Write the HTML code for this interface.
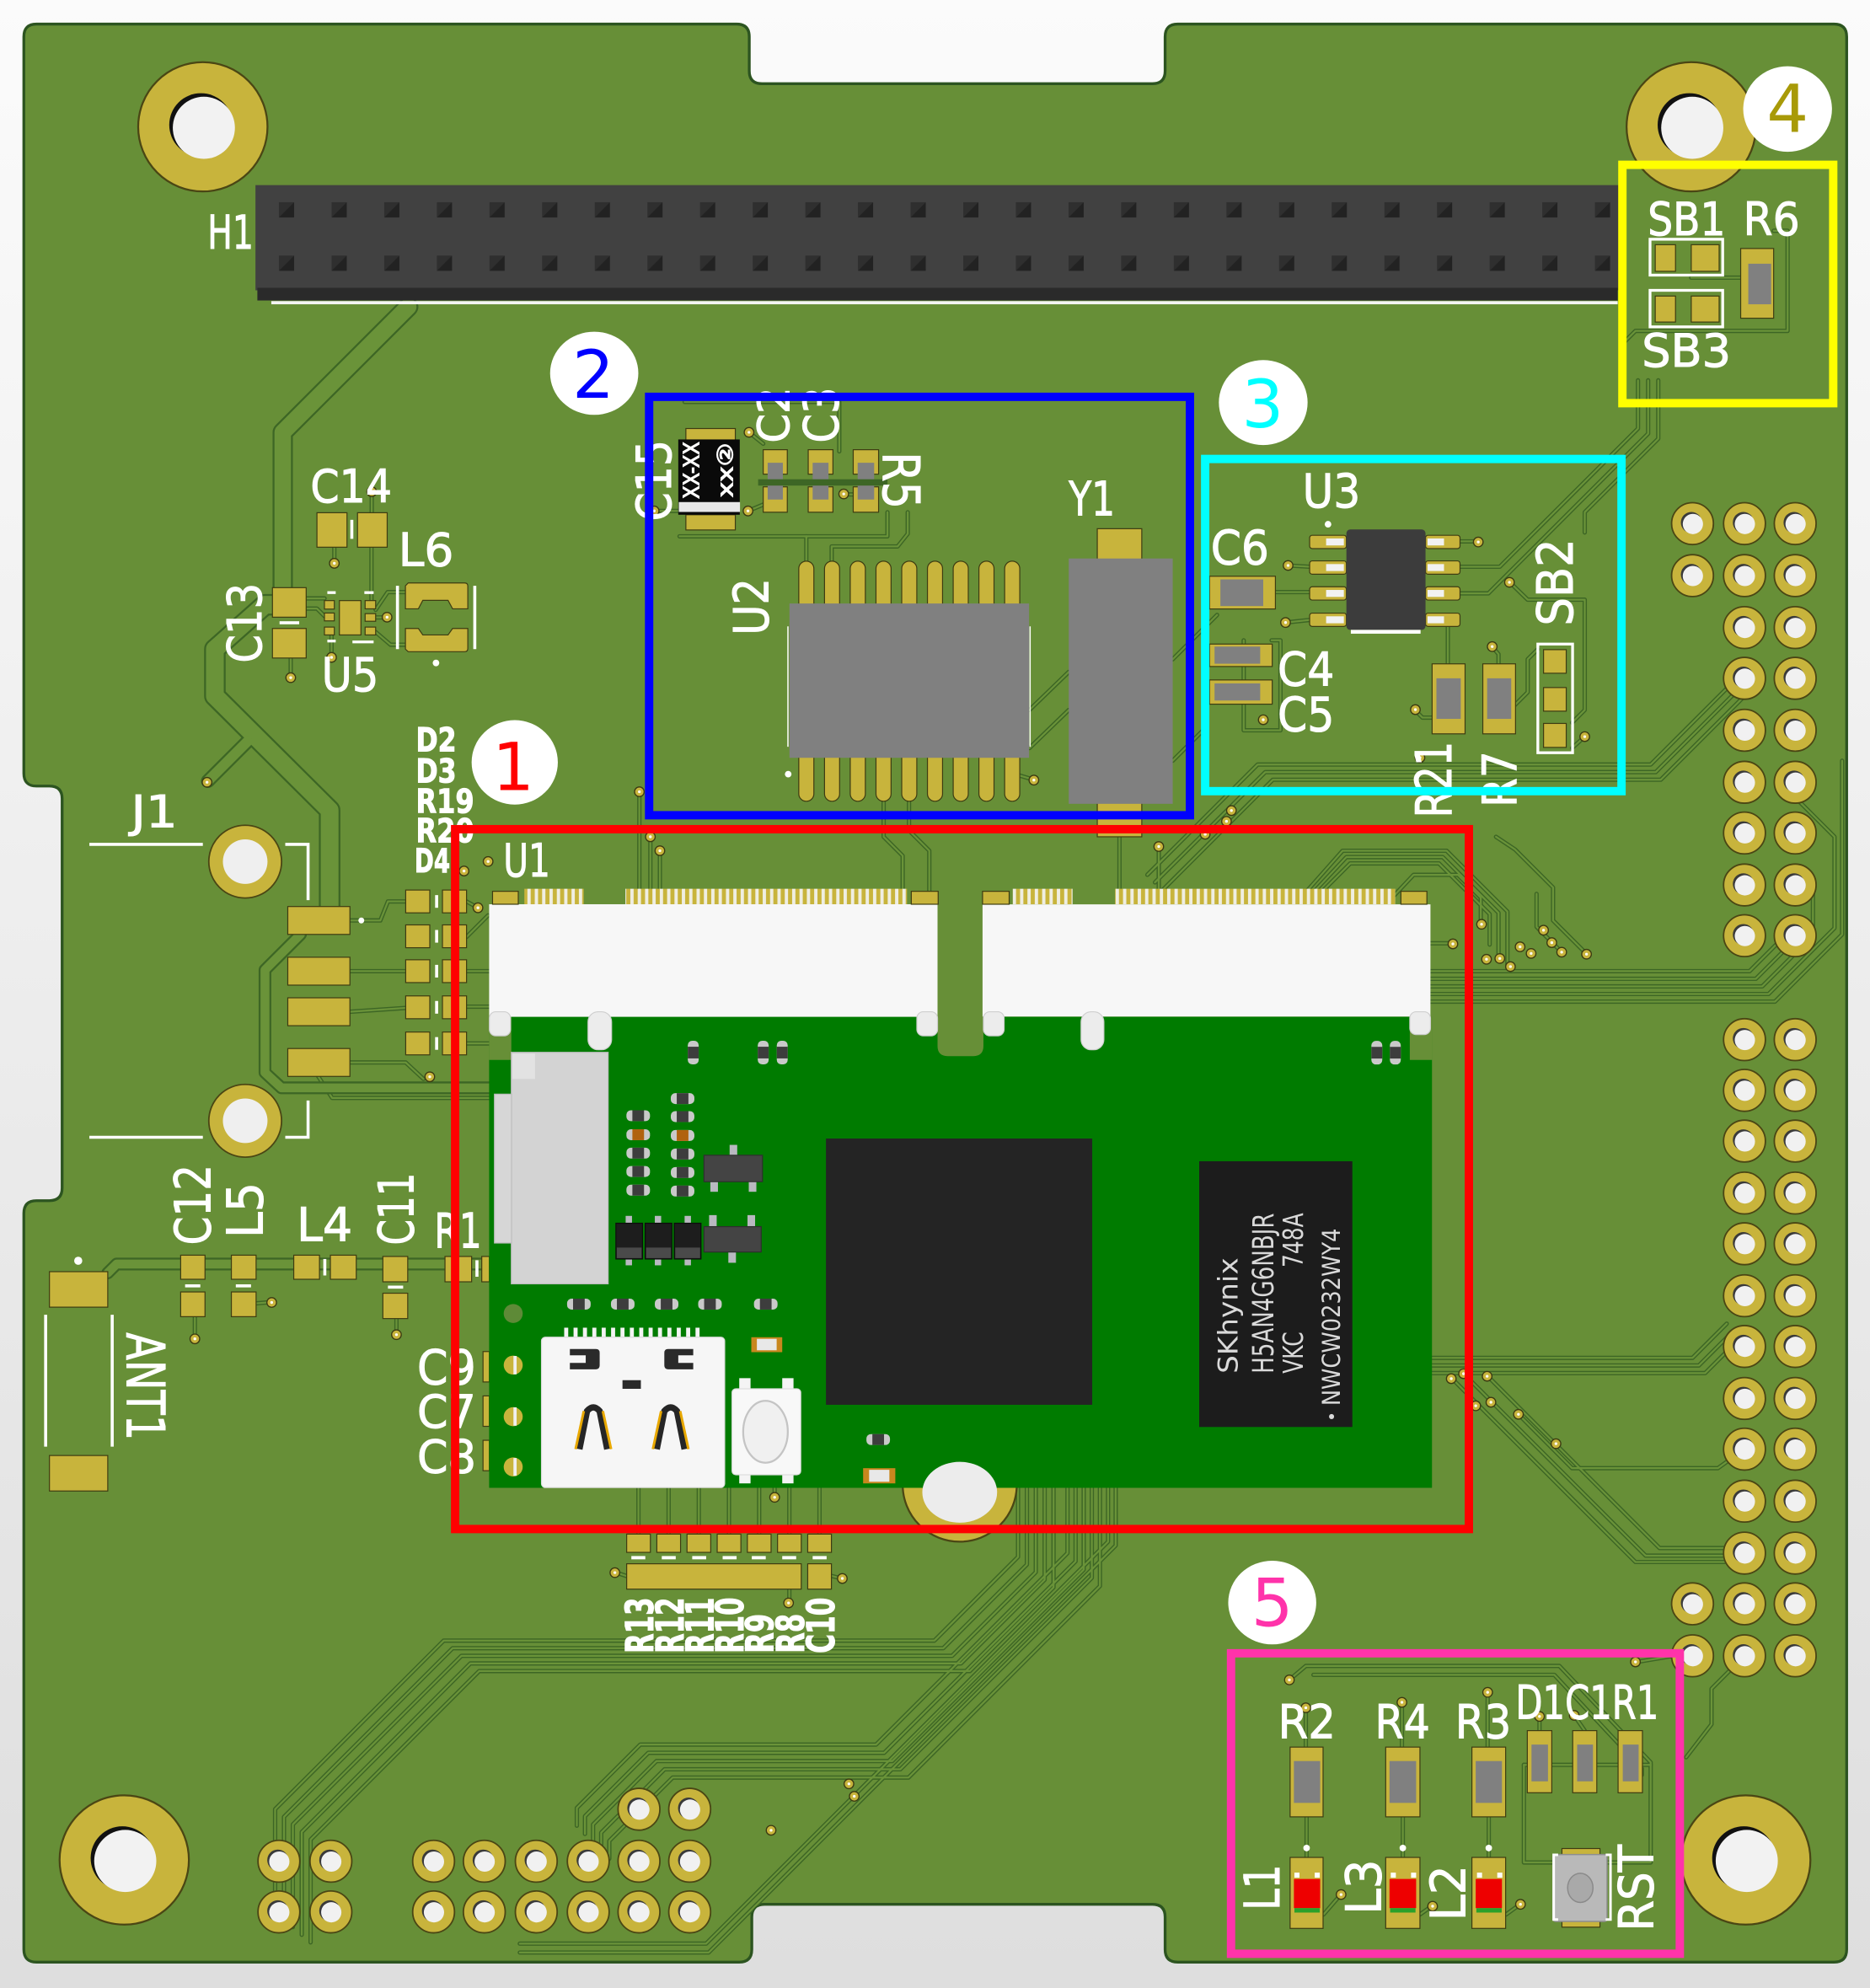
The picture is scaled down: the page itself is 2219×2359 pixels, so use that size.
<!DOCTYPE html>
<html><head><meta charset="utf-8"><style>
html,body{margin:0;padding:0;background:#eee;}
svg{display:block}
.s{fill:#fff;stroke:#fff;stroke-width:0.7;font-family:"DejaVu Sans","Liberation Sans","Noto Sans CJK JP",sans-serif;}
.b{font-weight:bold}
.g{fill:#c8b43c;stroke:#3e3c12;stroke-width:0.8}
.gy{fill:#808080}
.sk{stroke:#fff;fill:none}
</style></head><body>
<svg width="2219" height="2359" viewBox="0 0 1475 1568" preserveAspectRatio="none" xmlns="http://www.w3.org/2000/svg">
<defs>
<linearGradient id="bg" x1="0" y1="0" x2="0" y2="1"><stop offset="0" stop-color="#fbfbfb"/><stop offset="1" stop-color="#dedede"/></linearGradient>
<pattern id="pins" x="220" y="159.5" width="41.52" height="42.1" patternUnits="userSpaceOnUse"><rect width="12" height="12" fill="#222"/><path d="M0 0H12L0 12Z" fill="#2f2f2f"/></pattern>
<pattern id="comb" x="0" y="0" width="5.8" height="20" patternUnits="userSpaceOnUse"><rect width="5.8" height="20" fill="#efeee2"/><rect x="1" width="3.2" height="20" fill="#c8b43c"/></pattern>
<pattern id="wcomb" x="0" y="0" width="7.4" height="10" patternUnits="userSpaceOnUse"><rect x="1" width="3.2" height="10" fill="#f4f4f4"/></pattern>
<clipPath id="bc"><path d="M28.8,19 H581 Q591,19 591,29 V56 Q591,66 601,66 H909 Q919,66 919,56 V29 Q919,19 929,19 H1446.6 Q1456.6,19 1456.6,29 V1537.6 Q1456.6,1547.6 1446.6,1547.6 H929 Q919,1547.6 919,1537.6 V1512 Q919,1502 909,1502 H603 Q593,1502 593,1512 V1537.6 Q593,1547.6 583,1547.6 H28.8 Q18.8,1547.6 18.8,1537.6 V957 Q18.8,947 28.8,947 H39 Q49,947 49,937 V630 Q49,620 39,620 H28.8 Q18.8,620 18.8,610 V29 Q18.8,19 28.8,19 Z"/></clipPath>
<g id="hp"><circle r="16.5" fill="#c8b43c" stroke="#4a4614" stroke-width="1.2"/><circle cx="-0.9" cy="-0.9" r="8.3" fill="#3a3a3a"/><circle cx="0.3" cy="0.3" r="8" fill="#f1f1f1"/></g>
<g id="v"><circle r="3.8" fill="#c8b43c" stroke="#3b3a12" stroke-width="0.9"/><circle r="1.1" fill="#fff"/></g>
<g id="mh"><circle r="51" fill="#c8b43c" stroke="#4a4614" stroke-width="1.5"/><circle cx="-1.5" cy="-1.5" r="25" fill="#111"/><circle cx="0.8" cy="0.8" r="24.5" fill="#f2f2f2"/></g>
<g id="mr"><rect x="-9.3" y="-4.3" width="18.6" height="8.6" rx="3.5" fill="#c9c9c9"/><rect x="-4.6" y="-4.3" width="9.2" height="8.6" fill="#3d3d3d"/></g>
<g id="mrb"><rect x="-9.3" y="-4.3" width="18.6" height="8.6" rx="3.5" fill="#c9c9c9"/><rect x="-4.6" y="-4.3" width="9.2" height="8.6" fill="#b0620f"/></g>
<g id="bA"><path d="M803,1120 L803,1228 L737,1294 L350,1294 L217,1427 L217,1508"/></g>
<g id="bB"><path d="M842,1120 L842,1225 L691,1376 L505,1376 L455,1426 L455,1440"/></g>
<g id="T">
<use href="#bA"/><use href="#bA" transform="translate(7,6)"/><use href="#bA" transform="translate(14,12)"/><use href="#bA" transform="translate(21,18)"/><use href="#bA" transform="translate(28,24)"/>
<use href="#bB"/><use href="#bB" transform="translate(6.4,6.5)"/><use href="#bB" transform="translate(12.8,13)"/><use href="#bB" transform="translate(19.2,19.5)"/><use href="#bB" transform="translate(25.6,26)"/>
<path d="M874,1120 L874,1216 L557,1533 L410,1533"/>
<path d="M880,1120 L880,1219 L559,1540 L410,1540"/>
<path d="M276,726 L300,726 L306,711 L320,711"/>
<path d="M276,766 L320,766"/>
<path d="M276,798 L320,795"/>
<path d="M276,838 L320,838 L334,851"/>
<path d="M368,711 L377,716"/>
<path d="M368,739 L385,722"/>
<path d="M368,766 L387,766"/>
<path d="M368,794 L387,794"/>
<path d="M368,823 L387,823"/>
<path d="M251,849 L262,866 L387,866"/>
<path d="M153.7,1056 L153.7,1038"/>
<path d="M202,1028 L214,1027"/>
<path d="M312.7,1052.7 L312.7,1040"/>
<path d="M263.7,444 L263.7,431"/>
<path d="M293.2,388 L293.2,404"/>
<path d="M293,431 L293,476"/>
<path d="M241.5,472 L256,472"/>
<path d="M241.5,480 L250,480 L256,486"/>
<path d="M296.3,481 L305.8,467 L319.8,467"/>
<path d="M296.3,487 L305.3,487"/>
<path d="M296.3,498.5 L308,508.5 L319.8,508.5"/>
<path d="M229.3,534.5 L229.3,519"/>
<path d="M261.5,518.5 L261.5,501"/>
<path d="M540,317 L662,317 L662,356"/>
<path d="M536,423 L700,423 L700,404"/>
<path d="M636,423 L636,443"/>
<path d="M656,443 L656,431 L708,431 L716,421 L716,404"/>
<path d="M590.8,341 L602,350"/>
<path d="M665.5,390 L673,390"/>
<path d="M590,403 L602,398"/>
<path d="M516,403 L535,403"/>
<path d="M798.4,610 L815.5,615"/>
<path d="M504.3,625 L504.3,703"/>
<path d="M513,660 L513,703"/>
<path d="M520.5,671 L520.5,703"/>
<path d="M697,632 L697,660 L712,675 L712,703"/>
<path d="M717,632 L717,655 L733,671 L733,703"/>
<path d="M883,660 L883,703"/>
<path d="M914,668 L914,703"/>
<path d="M812,560 L843,530"/>
<path d="M812,590 L843,560"/>
<path d="M925,600 L950,575"/>
<path d="M925,520 L960,485"/>
<path d="M1006,467 L1033,467"/>
<path d="M1016,446 L1033,447"/>
<path d="M1014,491 L1033,489"/>
<path d="M1152,427 L1166,427"/>
<path d="M1138,489 L1142,489 L1142,524"/>
<path d="M1177,510 L1182,516 L1182,524"/>
<path d="M1116,560 L1122,566 L1130,566"/>
<path d="M1190.6,459 L1205,473 L1250,473 L1250,560 L1240,570"/>
<path d="M1195,556 L1205,546 L1205,520 L1213,512"/>
<path d="M1240,590 L1250,581"/>
<path d="M981,505 L981,576 L1010,576 L1010,505 L1003,505"/>
<path d="M1292,300 L1292,338 L1183,447 L1152,447"/>
<path d="M1300,300 L1300,342 L1174,468 L1152,468"/>
<path d="M1308,300 L1308,346 L1250,404 L1250,420"/>
<path d="M1334,219 L1373,219"/>
<path d="M1399,182 L1410,182 L1410,261 L1290,261 L1280,271"/>
<path d="M1040,706 L1065,681 L1135,681 L1175,721 L1175,745"/>
<path d="M1034,706 L1062,676 L1138,676 L1182,720 L1182,755"/>
<path d="M1028,706 L1059,671 L1141,671 L1189,719 L1189,762"/>
<path d="M1100,706 L1115,690 L1150,690 L1168,708 L1168,729"/>
<path d="M1146,744 L1128,744"/>
<path d="M1251,752 L1225,726 L1225,700 L1195,670 L1180,660"/>
<path d="M1231.8,751 L1212,731 L1212,705"/>
<path d="M905,690 L992,603 L1302,603 L1372,533"/>
<path d="M911,696 L998,609 L1306,609 L1376,539"/>
<path d="M917,702 L1004,615 L1310,615 L1380,545"/>
<path d="M1128,766 L1380,766 L1410,736"/>
<path d="M1128,772 L1385,772 L1416,741"/>
<path d="M1128,778 L1390,778 L1430,738 L1430,700"/>
<path d="M1128,784 L1395,784 L1447,732 L1447,660 L1420,633"/>
<path d="M1128,790 L1400,790 L1453,737 L1453,600"/>
<path d="M1128,1071 L1335,1071 L1362,1044"/>
<path d="M1128,1077 L1340,1077 L1368,1049"/>
<path d="M1128,1083 L1345,1083 L1376,1052"/>
<path d="M1145,1087 L1290,1232 L1360,1232"/>
<path d="M1154,1083 L1298,1227 L1360,1227"/>
<path d="M1173,1085 L1309,1221 L1360,1221"/>
<path d="M1197.7,1115.5 L1240,1158 L1355,1158 L1376,1143"/>
<path d="M1017,1325 L1030,1314 L1230,1314 L1302,1390 L1302,1469 L1268,1469"/>
<path d="M1036,1321 L1226,1321 L1295,1395 L1295,1400"/>
<path d="M1202,1392 L1302,1392"/>
<path d="M1202,1392 L1202,1469 L1225,1469"/>
<path d="M1030.6,1433 L1030.6,1465"/>
<path d="M1106.5,1433 L1106.5,1465"/>
<path d="M1174.3,1433 L1174.3,1465"/>
<path d="M1030,1347 L1030,1378"/>
<path d="M1105.8,1343 L1105.8,1378"/>
<path d="M1173.4,1335 L1173.4,1378"/>
<path d="M1214.3,1354 L1214.3,1365"/>
<path d="M1241.7,1353 L1250,1365"/>
<path d="M1044,1510 L1057.8,1494"/>
<path d="M1120,1510 L1130,1503"/>
<path d="M1188,1510 L1199,1502"/>
<path d="M1290,1311 L1320,1306"/>
<path d="M1376,1306 L1350,1332 L1350,1360 L1330,1386"/>
<path d="M503.6,1173 L503.6,1210"/>
<path d="M527.4,1173 L527.4,1210"/>
<path d="M551.2,1173 L551.2,1210"/>
<path d="M575,1173 L575,1210"/>
<path d="M598.8,1173 L598.8,1210"/>
<path d="M622.6,1173 L622.6,1210"/>
<path d="M646.4,1173 L646.4,1210"/>
<path d="M485,1240 L494,1243"/>
<path d="M622.6,1253 L622.6,1264"/>
<path d="M656,1243 L664,1245"/>
<path d="M611,1173 L611,1181"/>
</g>
</defs>

<rect width="1475" height="1568" fill="url(#bg)"/>
<path d="M28.8,19 H581 Q591,19 591,29 V56 Q591,66 601,66 H909 Q919,66 919,56 V29 Q919,19 929,19 H1446.6 Q1456.6,19 1456.6,29 V1537.6 Q1456.6,1547.6 1446.6,1547.6 H929 Q919,1547.6 919,1537.6 V1512 Q919,1502 909,1502 H603 Q593,1502 593,1512 V1537.6 Q593,1547.6 583,1547.6 H28.8 Q18.8,1547.6 18.8,1537.6 V957 Q18.8,947 28.8,947 H39 Q49,947 49,937 V630 Q49,620 39,620 H28.8 Q18.8,620 18.8,610 V29 Q18.8,19 28.8,19 Z" fill="#678f37" stroke="#2c5420" stroke-width="2.2"/>

<g clip-path="url(#bc)" fill="none" stroke-linejoin="round" stroke-linecap="round">
<use href="#T" stroke="#3d6625" stroke-width="3.4"/>
<use href="#T" stroke="#6a9339" stroke-width="1.5"/>
<g stroke="#3d6625"><path d="M322,242 L223,341 L223,463" stroke-width="16"/><path d="M215,477 L209,477 L169.5,512 L169.5,549 L260,639 L260,715" stroke-width="17"/><path d="M195,585 L164,616" stroke-width="11"/><path d="M237,737 L209,765 L209,846 L222,858 L387,858" stroke-width="10"/><path d="M85,1004 L92,997 L386,997" stroke-width="10"/></g>
<g stroke="#6a9339"><path d="M322,242 L223,341 L223,463" stroke-width="13"/><path d="M215,477 L209,477 L169.5,512 L169.5,549 L260,639 L260,715" stroke-width="14"/><path d="M195,585 L164,616" stroke-width="8"/><path d="M237,737 L209,765 L209,846 L222,858 L387,858" stroke-width="7"/><path d="M85,1004 L92,997 L386,997" stroke-width="7"/></g>
</g>

<use href="#mh" x="160" y="100"/>
<use href="#mh" x="1334" y="100"/>
<use href="#mh" x="98" y="1467"/>
<use href="#mh" x="1377" y="1467"/>
<circle cx="757" cy="1171" r="45" fill="#c8b43c" stroke="#4a4614" stroke-width="1.5"/>

<g>
<circle cx="193.4" cy="679.6" r="28.7" fill="#c8b43c" stroke="#4a4614" stroke-width="1.2"/><circle cx="193.4" cy="679.6" r="17.6" fill="#efefef"/>
<circle cx="193.4" cy="884" r="28.7" fill="#c8b43c" stroke="#4a4614" stroke-width="1.2"/><circle cx="193.4" cy="884" r="17.6" fill="#efefef"/>
</g>

<rect x="201.5" y="146" width="1075" height="83" fill="#414141"/>
<rect x="203" y="227" width="1073" height="10" fill="#2a2a2a"/>
<rect x="214" y="237.5" width="1062" height="2.5" fill="#f4f4f4"/>
<rect x="215" y="155" width="1060" height="60" fill="url(#pins)"/>

<g>
<use href="#hp" x="1335" y="413"/><use href="#hp" x="1376" y="413"/><use href="#hp" x="1416" y="413"/>
<use href="#hp" x="1335" y="454"/><use href="#hp" x="1376" y="454"/><use href="#hp" x="1416" y="454"/>
<use href="#hp" x="1376" y="495"/><use href="#hp" x="1416" y="495"/>
<use href="#hp" x="1376" y="535"/><use href="#hp" x="1416" y="535"/>
<use href="#hp" x="1376" y="576"/><use href="#hp" x="1416" y="576"/>
<use href="#hp" x="1376" y="617"/><use href="#hp" x="1416" y="617"/>
<use href="#hp" x="1376" y="657"/><use href="#hp" x="1416" y="657"/>
<use href="#hp" x="1376" y="698"/><use href="#hp" x="1416" y="698"/>
<use href="#hp" x="1376" y="738"/><use href="#hp" x="1416" y="738"/>
<use href="#hp" x="1376" y="820"/><use href="#hp" x="1416" y="820"/>
<use href="#hp" x="1376" y="860"/><use href="#hp" x="1416" y="860"/>
<use href="#hp" x="1376" y="900"/><use href="#hp" x="1416" y="900"/>
<use href="#hp" x="1376" y="941"/><use href="#hp" x="1416" y="941"/>
<use href="#hp" x="1376" y="981"/><use href="#hp" x="1416" y="981"/>
<use href="#hp" x="1376" y="1022"/><use href="#hp" x="1416" y="1022"/>
<use href="#hp" x="1376" y="1062"/><use href="#hp" x="1416" y="1062"/>
<use href="#hp" x="1376" y="1103"/><use href="#hp" x="1416" y="1103"/>
<use href="#hp" x="1376" y="1143"/><use href="#hp" x="1416" y="1143"/>
<use href="#hp" x="1376" y="1184"/><use href="#hp" x="1416" y="1184"/>
<use href="#hp" x="1376" y="1225"/><use href="#hp" x="1416" y="1225"/>
<use href="#hp" x="1335" y="1265"/><use href="#hp" x="1376" y="1265"/><use href="#hp" x="1416" y="1265"/>
<use href="#hp" x="1335" y="1306"/><use href="#hp" x="1376" y="1306"/><use href="#hp" x="1416" y="1306"/>
<use href="#hp" x="504" y="1427"/><use href="#hp" x="544" y="1427"/>
<use href="#hp" x="220" y="1468"/><use href="#hp" x="261" y="1468"/><use href="#hp" x="342" y="1468"/><use href="#hp" x="382" y="1468"/><use href="#hp" x="423" y="1468"/><use href="#hp" x="464" y="1468"/><use href="#hp" x="504" y="1468"/><use href="#hp" x="544" y="1468"/>
<use href="#hp" x="220" y="1508"/><use href="#hp" x="261" y="1508"/><use href="#hp" x="342" y="1508"/><use href="#hp" x="382" y="1508"/><use href="#hp" x="423" y="1508"/><use href="#hp" x="464" y="1508"/><use href="#hp" x="504" y="1508"/><use href="#hp" x="544" y="1508"/>
</g>

<g>
<use href="#v" x="263.7" y="444.3"/><use href="#v" x="293.2" y="387.8"/><use href="#v" x="229.3" y="534.5"/><use href="#v" x="261.5" y="518.5"/><use href="#v" x="305.3" y="486.8"/><use href="#v" x="163.3" y="617"/><use href="#v" x="339" y="849.3"/><use href="#v" x="366" y="687"/><use href="#v" x="377" y="716"/><use href="#v" x="385" y="679.5"/><use href="#v" x="153.7" y="1056"/><use href="#v" x="214.3" y="1027.3"/><use href="#v" x="312.7" y="1052.7"/>
<use href="#v" x="590.8" y="341"/><use href="#v" x="665.5" y="389.6"/><use href="#v" x="590" y="403"/><use href="#v" x="516" y="403"/><use href="#v" x="815.5" y="615.3"/><use href="#v" x="504.3" y="624.5"/><use href="#v" x="513" y="660"/><use href="#v" x="520.5" y="671"/>
<use href="#v" x="1166" y="427.5"/><use href="#v" x="1016" y="446"/><use href="#v" x="1014" y="491"/><use href="#v" x="1190.6" y="459.3"/><use href="#v" x="1177" y="510"/><use href="#v" x="1116.4" y="559.7"/><use href="#v" x="1250" y="581"/><use href="#v" x="996.4" y="567.7"/><use href="#v" x="1120" y="597.6"/>
<use href="#v" x="1168.6" y="729"/><use href="#v" x="1146" y="744.5"/><use href="#v" x="1172.5" y="756.6"/><use href="#v" x="1183" y="756"/><use href="#v" x="1191.4" y="762.4"/><use href="#v" x="1199" y="746.8"/><use href="#v" x="1207.7" y="752"/><use href="#v" x="1217.5" y="733.7"/><use href="#v" x="1224" y="743.5"/><use href="#v" x="1231.8" y="751"/><use href="#v" x="1251.4" y="752.6"/>
<use href="#v" x="971.3" y="639.3"/><use href="#v" x="967.4" y="647.8"/><use href="#v" x="950.6" y="658"/><use href="#v" x="914" y="667.7"/>
<use href="#v" x="1144.7" y="1087.4"/><use href="#v" x="1154.4" y="1083.5"/><use href="#v" x="1173" y="1085.5"/><use href="#v" x="1164" y="1108.8"/><use href="#v" x="1176" y="1106"/><use href="#v" x="1197.7" y="1115.5"/><use href="#v" x="1227.3" y="1138.7"/>
<use href="#v" x="611" y="1181"/><use href="#v" x="664.4" y="1245"/><use href="#v" x="622" y="1264.3"/><use href="#v" x="669.6" y="1407"/><use href="#v" x="673.8" y="1416.8"/><use href="#v" x="608.2" y="1443.6"/><use href="#v" x="485" y="1240.4"/>
<use href="#v" x="1017" y="1325"/><use href="#v" x="1030" y="1347"/><use href="#v" x="1105.8" y="1342.7"/><use href="#v" x="1173.4" y="1334.8"/><use href="#v" x="1214.3" y="1353.8"/><use href="#v" x="1241.7" y="1353"/><use href="#v" x="1290" y="1310.8"/><use href="#v" x="1057.8" y="1494.3"/><use href="#v" x="1130" y="1503.5"/><use href="#v" x="1199.3" y="1502"/>
</g>

<g class="g">
<rect x="250" y="404.4" width="23.7" height="27.2"/><rect x="282" y="404.4" width="23.4" height="27.2"/>
<rect x="214.9" y="463.5" width="26.6" height="23.3"/><rect x="214.9" y="495.7" width="26.6" height="23.3"/>
<rect x="267.7" y="473.7" width="17" height="27.1"/>
<rect x="255.9" y="473.7" width="7.8" height="6.7"/><rect x="255.9" y="483.5" width="7.8" height="6.2"/><rect x="255.9" y="494.6" width="7.8" height="6.2"/>
<rect x="288" y="473.7" width="8.3" height="6.5"/><rect x="288" y="484" width="8.3" height="6"/><rect x="288" y="494.6" width="8.3" height="6.2"/>
<path d="M322,459.8 H366.5 Q369,459.8 369,462.3 V480.2 H357 L353.4,473.5 H333.5 L330,480.2 H319.8 V462 Z"/>
<path d="M322,514 H366.5 Q369,514 369,511.5 V495.7 H357 L353.4,500.8 H333.5 L330,495.7 H319.8 V512 Z"/>
<rect x="227" y="715" width="49" height="22"/><rect x="227" y="755" width="49" height="22"/><rect x="227" y="787" width="49" height="22"/><rect x="227" y="827" width="49" height="22"/>
<rect x="320" y="702" width="19" height="18"/><rect x="349" y="702" width="19" height="18"/>
<rect x="320" y="729.5" width="19" height="18"/><rect x="349" y="729.5" width="19" height="18"/>
<rect x="320" y="757" width="19" height="18"/><rect x="349" y="757" width="19" height="18"/>
<rect x="320" y="785.5" width="19" height="18"/><rect x="349" y="785.5" width="19" height="18"/>
<rect x="320" y="814" width="19" height="18"/><rect x="349" y="814" width="19" height="18"/>
<rect x="39" y="1003" width="46" height="28"/><rect x="39" y="1148" width="46" height="28"/>
<rect x="142.5" y="990" width="19.2" height="19"/><rect x="142.5" y="1019" width="19.2" height="19.5"/>
<rect x="182.5" y="990" width="19.5" height="19"/><rect x="182.5" y="1019" width="19.5" height="19.5"/>
<rect x="231.7" y="990" width="20.3" height="19"/><rect x="260.6" y="990" width="20.4" height="19"/>
<rect x="302" y="991" width="19.6" height="20"/><rect x="302" y="1020" width="19.6" height="20"/>
<rect x="351" y="991" width="21" height="20"/><rect x="380" y="991" width="6" height="20"/>
<rect x="381" y="1066" width="5" height="24"/><rect x="381" y="1101" width="5" height="24"/><rect x="381" y="1136" width="5" height="24"/>
<rect x="494.3" y="1210" width="18.7" height="14.4"/><rect x="518.1" y="1210" width="18.7" height="14.4"/><rect x="541.9" y="1210" width="18.7" height="14.4"/><rect x="565.7" y="1210" width="18.7" height="14.4"/><rect x="589.5" y="1210" width="18.7" height="14.4"/><rect x="613.3" y="1210" width="18.7" height="14.4"/><rect x="637.1" y="1210" width="18.7" height="14.4"/>
<rect x="494.3" y="1233.4" width="137.7" height="20"/><rect x="637.1" y="1233.4" width="18.7" height="20"/>
</g>
<g fill="#fff">
<rect x="276.3" y="410" width="2.4" height="15"/><rect x="220.5" y="490" width="15.5" height="2.4"/>
<rect x="258.2" y="466.3" width="6.6" height="2.2"/><rect x="287.4" y="466.3" width="7.3" height="2.2"/><rect x="258.2" y="504.5" width="6.6" height="2.2"/><rect x="278" y="505.2" width="16.7" height="2.2"/>
<rect x="343.2" y="706" width="2.4" height="10"/><rect x="343.2" y="733.5" width="2.4" height="10"/><rect x="343.2" y="761" width="2.4" height="10"/><rect x="343.2" y="789.5" width="2.4" height="10"/><rect x="343.2" y="818" width="2.4" height="10"/>
<rect x="146" y="1013" width="12" height="2.4"/><rect x="186" y="1013" width="12" height="2.4"/><rect x="306" y="1014" width="12" height="2.4"/><rect x="255" y="993" width="2.4" height="13"/><rect x="375" y="994" width="2.4" height="13"/>
<rect x="498" y="1227.3" width="11" height="2.6"/><rect x="522" y="1227.3" width="11" height="2.6"/><rect x="546" y="1227.3" width="11" height="2.6"/><rect x="570" y="1227.3" width="11" height="2.6"/><rect x="593" y="1227.3" width="11" height="2.6"/><rect x="617" y="1227.3" width="11" height="2.6"/><rect x="641" y="1227.3" width="11" height="2.6"/>
<circle cx="285" cy="726" r="2.3"/><circle cx="61.7" cy="994.4" r="3.2"/><circle cx="343.9" cy="522.9" r="2.6"/>
<circle cx="1030.6" cy="1457.6" r="2.6"/><circle cx="1106.5" cy="1457.6" r="2.6"/><circle cx="1174.3" cy="1457.6" r="2.6"/>
</g>
<g fill="none" stroke="#fff" stroke-width="2.4">
<path d="M70.5,666 H160 M225,666 H243 V710 M243,868 V897 H225 M70.5,897 H160"/>
<path d="M36,1037 V1141 M88.5,1037 V1141"/>
<path d="M313.5,462 V512 M374.5,462 V512"/>
</g>

<g>
<rect x="541" y="338" width="39" height="11" class="g"/><rect x="541" y="406" width="39" height="12" class="g"/>
<rect x="535" y="346.6" width="48.5" height="59.4" fill="#0a0a0a"/>
<rect x="535.4" y="396" width="48.3" height="7.8" fill="#e8e8e8"/>
<text class="s" transform="translate(551.4,393.4) rotate(-90)" font-size="17" stroke-width="0" textLength="45" lengthAdjust="spacingAndGlyphs">XX-XX</text>
<text class="s" transform="translate(577.9,392.3) rotate(-90)" font-size="17" stroke-width="0" textLength="43" lengthAdjust="spacingAndGlyphs">xx②</text>
<rect x="602" y="354.7" width="19" height="19.3" class="g"/><rect x="602" y="384" width="19" height="20" class="g"/><rect x="605.5" y="365" width="12" height="29" class="gy"/>
<rect x="637.5" y="354.7" width="19.5" height="19.3" class="g"/><rect x="637.5" y="384" width="19.5" height="20" class="g"/><rect x="641" y="365" width="12.5" height="29" class="gy"/>
<rect x="673" y="354.7" width="20" height="19.3" class="g"/><rect x="673" y="384" width="20" height="20" class="g"/><rect x="676.5" y="365" width="13" height="29" class="gy"/>
<rect x="598" y="378" width="102" height="5" fill="#3d6625"/>
</g>
<g class="g">
<rect x="630.05" y="442.6" width="11.9" height="45" rx="5.9"/><rect x="650.35" y="442.6" width="11.9" height="45" rx="5.9"/><rect x="670.65" y="442.6" width="11.9" height="45" rx="5.9"/><rect x="690.95" y="442.6" width="11.9" height="45" rx="5.9"/><rect x="711.25" y="442.6" width="11.9" height="45" rx="5.9"/><rect x="731.55" y="442.6" width="11.9" height="45" rx="5.9"/><rect x="751.85" y="442.6" width="11.9" height="45" rx="5.9"/><rect x="772.15" y="442.6" width="11.9" height="45" rx="5.9"/><rect x="792.45" y="442.6" width="11.9" height="45" rx="5.9"/>
<rect x="630.05" y="585" width="11.9" height="47" rx="5.9"/><rect x="650.35" y="585" width="11.9" height="47" rx="5.9"/><rect x="670.65" y="585" width="11.9" height="47" rx="5.9"/><rect x="690.95" y="585" width="11.9" height="47" rx="5.9"/><rect x="711.25" y="585" width="11.9" height="47" rx="5.9"/><rect x="731.55" y="585" width="11.9" height="47" rx="5.9"/><rect x="751.85" y="585" width="11.9" height="47" rx="5.9"/><rect x="772.15" y="585" width="11.9" height="47" rx="5.9"/><rect x="792.45" y="585" width="11.9" height="47" rx="5.9"/>
<rect x="865.5" y="417" width="35.1" height="25"/><rect x="865.5" y="628" width="35.1" height="32"/>
</g>
<rect x="622.7" y="476" width="189" height="121.7" fill="#808080"/>
<path d="M621.5,494 V589 M812.5,494 V589" stroke="#fff" stroke-width="1"/>
<circle cx="621.7" cy="610.6" r="2.6" fill="#fff"/>
<rect x="843" y="440.5" width="82" height="193.5" fill="#808080"/>

<g class="g">
<rect x="1033" y="422.2" width="29" height="10.5" rx="2"/><rect x="1033" y="442.4" width="29" height="10.5" rx="2"/><rect x="1033" y="462.8" width="29" height="10.5" rx="2"/><rect x="1033" y="483.6" width="29" height="10.5" rx="2"/>
<rect x="1124.4" y="422.2" width="27.2" height="10.5" rx="2"/><rect x="1124.4" y="442.4" width="27.2" height="10.5" rx="2"/><rect x="1124.4" y="462.8" width="27.2" height="10.5" rx="2"/><rect x="1124.4" y="483.6" width="27.2" height="10.5" rx="2"/>
<rect x="954" y="454.5" width="52" height="25.8"/>
<rect x="954" y="508" width="49.5" height="17.7"/><rect x="954" y="536.3" width="49.5" height="19.1"/>
<rect x="1129.6" y="523.6" width="26" height="55.2"/><rect x="1169.6" y="523.6" width="25.8" height="55.2"/>
<rect x="1217.5" y="512.4" width="17.9" height="18.6"/><rect x="1217.5" y="542.3" width="17.9" height="18.6"/><rect x="1217.5" y="570.6" width="17.9" height="18.9"/>
</g>
<g fill="#f2f2f2"><rect x="1046" y="424.7" width="14" height="5.5"/><rect x="1046" y="444.9" width="14" height="5.5"/><rect x="1046" y="465.3" width="14" height="5.5"/><rect x="1046" y="486.1" width="14" height="5.5"/>
<rect x="1126" y="424.7" width="13" height="5.5"/><rect x="1126" y="444.9" width="13" height="5.5"/><rect x="1126" y="465.3" width="13" height="5.5"/><rect x="1126" y="486.1" width="13" height="5.5"/></g>
<rect x="1062" y="417.6" width="62.4" height="79.2" rx="3" fill="#3c3c3c"/>
<rect x="1065.5" y="496.8" width="55" height="3" fill="#fff"/>
<circle cx="1047.5" cy="413.5" r="2.6" fill="#fff"/>
<rect x="962.6" y="457" width="33.8" height="21" class="gy"/>
<rect x="958" y="510" width="36" height="13.5" class="gy"/><rect x="958" y="539" width="36" height="13.5" class="gy"/>
<rect x="1133" y="535" width="19.2" height="32" class="gy"/><rect x="1173" y="535" width="19" height="32" class="gy"/>
<rect x="1213" y="508" width="27.4" height="85.7" class="sk" stroke-width="2.2"/>

<g class="g">
<rect x="1305.6" y="193" width="16" height="21"/><rect x="1334" y="193" width="22" height="21"/>
<rect x="1305.6" y="233.5" width="16" height="20.5"/><rect x="1334" y="233.5" width="22" height="20.5"/>
<rect x="1373" y="196" width="26" height="55"/>
</g>
<rect x="1379" y="208" width="18" height="32" class="gy"/>
<rect x="1301.5" y="188.7" width="57.3" height="28.3" class="sk" stroke-width="2.2"/>
<rect x="1301.5" y="229" width="57.3" height="28.8" class="sk" stroke-width="2.2"/>

<g class="g">
<rect x="1017.6" y="1378" width="26" height="55"/><rect x="1093" y="1378" width="27" height="55"/><rect x="1161" y="1378" width="26.6" height="55"/>
<rect x="1204.7" y="1365" width="19.3" height="49"/><rect x="1240.5" y="1365" width="19" height="49"/><rect x="1276.3" y="1365" width="19.2" height="49"/>
<rect x="1017.6" y="1465" width="26" height="56"/><rect x="1093" y="1465" width="27" height="56"/><rect x="1161" y="1465" width="26.6" height="56"/>
<rect x="1232" y="1458" width="30" height="8"/><rect x="1232" y="1512" width="30" height="8"/>
</g>
<g class="gy"><rect x="1020.6" y="1389" width="20.7" height="33"/><rect x="1096" y="1389" width="21" height="33"/><rect x="1164" y="1389" width="20.7" height="33"/>
<rect x="1208" y="1376" width="13" height="29"/><rect x="1244" y="1376" width="12.5" height="29"/><rect x="1280" y="1376" width="12.5" height="29"/></g>
<g fill="#ee0000"><rect x="1020.6" y="1482" width="20.7" height="23"/><rect x="1096" y="1482" width="21" height="23"/><rect x="1164" y="1482" width="20.7" height="23"/></g>
<g fill="#fff"><rect x="1021" y="1477" width="4" height="4"/><rect x="1037" y="1477" width="4" height="4"/><rect x="1097" y="1477" width="4" height="4"/><rect x="1113" y="1477" width="4" height="4"/><rect x="1165" y="1477" width="4" height="4"/><rect x="1181" y="1477" width="4" height="4"/></g>
<g fill="#2aa02a"><rect x="1021" y="1505" width="20" height="3.5"/><rect x="1096.5" y="1505" width="20" height="3.5"/><rect x="1164.5" y="1505" width="20" height="3.5"/></g>
<rect x="1225" y="1462.7" width="42.6" height="52.8" rx="2" fill="#b9b9b9" stroke="#8e8e8e" stroke-width="1"/>
<ellipse cx="1246.5" cy="1489" rx="10" ry="11.5" fill="#a9a9a9" stroke="#8a8a8a" stroke-width="1"/>
<path d="M1229,1463 H1225.5 V1514 H1229 M1266.5,1463 H1270.3 V1514 H1266.5" fill="none" stroke="#fff" stroke-width="2"/>

<g class="s">
<text x="163.7" y="196" font-size="37" textLength="36.3" lengthAdjust="spacingAndGlyphs">H1</text>
<text x="244.9" y="396.2" font-size="36" textLength="64.2" lengthAdjust="spacingAndGlyphs">C14</text>
<text x="314.2" y="446.5" font-size="36" textLength="43.7" lengthAdjust="spacingAndGlyphs">L6</text>
<text x="253.7" y="545" font-size="37" textLength="45" lengthAdjust="spacingAndGlyphs">U5</text>
<text class="b" x="328" y="592.7" font-size="26" textLength="32" lengthAdjust="spacingAndGlyphs">D2</text>
<text class="b" x="328" y="617" font-size="26" textLength="32" lengthAdjust="spacingAndGlyphs">D3</text>
<text class="b" x="328" y="641" font-size="26" textLength="46" lengthAdjust="spacingAndGlyphs">R19</text>
<text class="b" x="328" y="664.5" font-size="26" textLength="46" lengthAdjust="spacingAndGlyphs">R20</text>
<text class="b" x="327" y="688" font-size="26" textLength="28" lengthAdjust="spacingAndGlyphs">D4</text>
<text x="103.4" y="652.5" font-size="35" textLength="36.6" lengthAdjust="spacingAndGlyphs">J1</text>
<text x="397" y="691.4" font-size="36" textLength="37" lengthAdjust="spacingAndGlyphs">U1</text>
<text x="234" y="978.7" font-size="36.5" textLength="44" lengthAdjust="spacingAndGlyphs">L4</text>
<text x="342.6" y="984" font-size="38" textLength="37.4" lengthAdjust="spacingAndGlyphs">R1</text>
<text x="329" y="1091.6" font-size="38" textLength="46.4" lengthAdjust="spacingAndGlyphs">C9</text>
<text x="329" y="1126" font-size="36" textLength="46.4" lengthAdjust="spacingAndGlyphs">C7</text>
<text x="329" y="1161.6" font-size="36" textLength="46.4" lengthAdjust="spacingAndGlyphs">C8</text>
<text x="843" y="406.4" font-size="37.5" textLength="36.5" lengthAdjust="spacingAndGlyphs">Y1</text>
<text x="1027.4" y="400" font-size="37" textLength="45.6" lengthAdjust="spacingAndGlyphs">U3</text>
<text x="955" y="445" font-size="37.5" textLength="46" lengthAdjust="spacingAndGlyphs">C6</text>
<text x="1007.7" y="540.7" font-size="37" textLength="44.8" lengthAdjust="spacingAndGlyphs">C4</text>
<text x="1007.7" y="576.6" font-size="37.5" textLength="44.8" lengthAdjust="spacingAndGlyphs">C5</text>
<text x="1299.7" y="185.3" font-size="36" textLength="61.3" lengthAdjust="spacingAndGlyphs">SB1</text>
<text x="1375" y="185.3" font-size="36" textLength="44.6" lengthAdjust="spacingAndGlyphs">R6</text>
<text x="1295" y="289" font-size="36" textLength="70.4" lengthAdjust="spacingAndGlyphs">SB3</text>
<text x="1008" y="1371" font-size="37" textLength="45.6" lengthAdjust="spacingAndGlyphs">R2</text>
<text x="1084.5" y="1371" font-size="37" textLength="43.5" lengthAdjust="spacingAndGlyphs">R4</text>
<text x="1147.8" y="1371" font-size="37" textLength="44.2" lengthAdjust="spacingAndGlyphs">R3</text>
<text x="1195.4" y="1355.6" font-size="37" textLength="113" lengthAdjust="spacingAndGlyphs">D1C1R1</text>
<text transform="translate(206,522.9) rotate(-90)" font-size="37.5" textLength="63" lengthAdjust="spacingAndGlyphs">C13</text>
<text transform="translate(166,982) rotate(-90)" font-size="39" textLength="63.4" lengthAdjust="spacingAndGlyphs">C12</text>
<text transform="translate(206.9,976.5) rotate(-90)" font-size="39" textLength="44" lengthAdjust="spacingAndGlyphs">L5</text>
<text transform="translate(326,982) rotate(-90)" font-size="38.5" textLength="57" lengthAdjust="spacingAndGlyphs">C11</text>
<text transform="translate(529,411) rotate(-90)" font-size="38" textLength="64" lengthAdjust="spacingAndGlyphs">C15</text>
<text transform="translate(622.6,349.4) rotate(-90)" font-size="34.5" textLength="44" lengthAdjust="spacingAndGlyphs">C2</text>
<text transform="translate(661,349.4) rotate(-90)" font-size="38" textLength="44" lengthAdjust="spacingAndGlyphs">C3</text>
<text transform="translate(606,501) rotate(-90)" font-size="38" textLength="45" lengthAdjust="spacingAndGlyphs">U2</text>
<text transform="translate(1240.4,493.5) rotate(-90)" font-size="39" textLength="68.5" lengthAdjust="spacingAndGlyphs">SB2</text>
<text transform="translate(1144.7,645) rotate(-90)" font-size="38.8" textLength="60.2" lengthAdjust="spacingAndGlyphs">R21</text>
<text transform="translate(1196,636.8) rotate(-90)" font-size="37.6" textLength="44.5" lengthAdjust="spacingAndGlyphs">R7</text>
<text transform="translate(1009,1506.6) rotate(-90)" font-size="38.4" textLength="36" lengthAdjust="spacingAndGlyphs">L1</text>
<text transform="translate(1089,1510) rotate(-90)" font-size="38.4" textLength="43.4" lengthAdjust="spacingAndGlyphs">L3</text>
<text transform="translate(1155.6,1515) rotate(-90)" font-size="38" textLength="44" lengthAdjust="spacingAndGlyphs">L2</text>
<text transform="translate(1304,1523.3) rotate(-90)" font-size="37.7" textLength="68.3" lengthAdjust="spacingAndGlyphs">RST</text>
<text transform="translate(100,1051) rotate(90)" font-size="41.5" textLength="85" lengthAdjust="spacingAndGlyphs">ANT1</text>
<text transform="translate(696.6,356.5) rotate(90)" font-size="40" textLength="45" lengthAdjust="spacingAndGlyphs">R5</text>
<g class="b" font-size="30">
<text transform="translate(515,1304) rotate(-90)" textLength="44" lengthAdjust="spacingAndGlyphs">R13</text>
<text transform="translate(539,1304) rotate(-90)" textLength="44" lengthAdjust="spacingAndGlyphs">R12</text>
<text transform="translate(562.6,1304) rotate(-90)" textLength="44" lengthAdjust="spacingAndGlyphs">R11</text>
<text transform="translate(586.4,1304) rotate(-90)" textLength="44" lengthAdjust="spacingAndGlyphs">R10</text>
<text transform="translate(610,1304) rotate(-90)" textLength="31.3" lengthAdjust="spacingAndGlyphs">R9</text>
<text transform="translate(634,1304) rotate(-90)" textLength="31.3" lengthAdjust="spacingAndGlyphs">R8</text>
<text transform="translate(658,1304) rotate(-90)" textLength="44" lengthAdjust="spacingAndGlyphs">C10</text>
</g>
</g>

<g>
<rect x="385.8" y="802" width="743.7" height="371.5" fill="#007b00"/>
<path d="M739.5,795 V825 Q739.5,833 747.5,833 H767.7 Q775.7,833 775.7,825 V795 Z" fill="#678f37"/>
<rect x="385.8" y="802" width="17.5" height="34" fill="#678f37"/>
<rect x="1112" y="802" width="17.6" height="34" fill="#678f37"/>
<rect x="385.8" y="713.2" width="353.7" height="88.8" fill="#f7f7f7"/>
<rect x="775" y="713.3" width="353.3" height="88.5" fill="#f7f7f7"/>
<g fill="#ececec" stroke="#cfcfcf" stroke-width="0.8">
<rect x="386" y="798" width="16.7" height="19" rx="5"/><rect x="463.8" y="798" width="18.6" height="30" rx="8"/><rect x="723.2" y="798" width="16.3" height="19" rx="5"/>
<rect x="775.7" y="798" width="16.3" height="19" rx="5"/><rect x="852.7" y="798" width="18" height="30" rx="8"/><rect x="1112" y="798" width="16.3" height="18" rx="5"/>
</g>
<rect x="388.5" y="703" width="20.3" height="10.2" class="g"/><rect x="413.6" y="701" width="46.8" height="12.2" fill="url(#comb)"/>
<rect x="493.3" y="701" width="222.1" height="12.2" fill="url(#comb)"/><rect x="718.8" y="703" width="21.2" height="10.2" class="g"/>
<rect x="775" y="703" width="21" height="10.2" class="g"/><rect x="798.8" y="701" width="47.2" height="12.2" fill="url(#comb)"/>
<rect x="879.5" y="701" width="221" height="12.2" fill="url(#comb)"/><rect x="1105" y="703" width="20.5" height="10.2" class="g"/>
<rect x="403.3" y="830" width="76.4" height="182.6" fill="#d3d3d3" stroke="#bdbdbd" stroke-width="0.8"/>
<rect x="390" y="863" width="13.5" height="117.4" fill="#d6d6d6" stroke="#bdbdbd" stroke-width="0.8"/>
<rect x="404" y="831" width="18" height="20" fill="#e2e2e2"/>
<use href="#mr" x="503.4" y="880"/><use href="#mrb" x="503.4" y="895"/><use href="#mr" x="503.4" y="909.5"/><use href="#mr" x="503.4" y="924"/><use href="#mr" x="503.4" y="938.7"/>
<use href="#mr" x="538.4" y="866.5"/><use href="#mr" x="538.4" y="880.7"/><use href="#mrb" x="538.4" y="895.6"/><use href="#mr" x="538.4" y="910.2"/><use href="#mr" x="538.4" y="924.8"/><use href="#mr" x="538.4" y="939.4"/>
<use href="#mr" transform="translate(546.8,830.2) rotate(90)"/><use href="#mr" transform="translate(602,830.2) rotate(90)"/><use href="#mr" transform="translate(617,830.2) rotate(90)"/>
<use href="#mr" transform="translate(1086,830.3) rotate(90)"/><use href="#mr" transform="translate(1100.6,830.3) rotate(90)"/>
<use href="#mr" x="456.6" y="1028.6"/><use href="#mr" x="491.2" y="1028.6"/><use href="#mr" x="525.8" y="1028.6"/><use href="#mr" x="560" y="1028.6"/><use href="#mr" x="604" y="1028.6"/>
<use href="#mr" x="692.7" y="1135.4"/>
<g fill="#b9b9c0"><rect x="575.5" y="903" width="6" height="8.5"/><rect x="560.3" y="931.5" width="6" height="8.5"/><rect x="590.6" y="931.5" width="6" height="8.5"/>
<rect x="559.3" y="958.4" width="6" height="9.5"/><rect x="589.6" y="958.4" width="6" height="9.5"/><rect x="574.5" y="987" width="6" height="9"/>
<rect x="493.5" y="959" width="5" height="6"/><rect x="516.5" y="959" width="5" height="6"/><rect x="540" y="959" width="5" height="6"/>
<rect x="493.5" y="993" width="5" height="5"/><rect x="516.5" y="993" width="5" height="5"/><rect x="540" y="993" width="5" height="5"/></g>
<rect x="555.3" y="911.2" width="46.1" height="20.8" fill="#444" stroke="#2e2e2e" stroke-width="0.8"/>
<rect x="555.3" y="967.5" width="45.1" height="20" fill="#444" stroke="#2e2e2e" stroke-width="0.8"/>
<g fill="#1d1d1d" stroke="#0c0c0c" stroke-width="0.8"><rect x="485.8" y="964.8" width="21" height="28.2"/><rect x="508.9" y="964.8" width="21" height="28.2"/><rect x="531.9" y="964.8" width="21" height="28.2"/></g>
<g fill="#4a4a4a"><rect x="486.5" y="984" width="19.6" height="8.3"/><rect x="509.6" y="984" width="19.6" height="8.3"/><rect x="532.6" y="984" width="19.6" height="8.3"/></g>
<rect x="651.5" y="898" width="210" height="210" fill="#242424"/>
<rect x="945.9" y="915.9" width="120.8" height="209.6" fill="#1c1c1c"/>
<g fill="#d9d9d9" font-family="'DejaVu Sans','Liberation Sans',sans-serif">
<text transform="translate(976,1083.4) rotate(-90)" font-size="21" textLength="91.5" lengthAdjust="spacingAndGlyphs">SKhynix</text>
<text transform="translate(1004.4,1083.4) rotate(-90)" font-size="23" textLength="126.6" lengthAdjust="spacingAndGlyphs">H5AN4G6NBJR</text>
<text transform="translate(1027.7,1083.4) rotate(-90)" font-size="22" textLength="33" lengthAdjust="spacingAndGlyphs">VKC</text>
<text transform="translate(1027.7,999.7) rotate(-90)" font-size="22" textLength="43" lengthAdjust="spacingAndGlyphs">748A</text>
<text transform="translate(1057,1108.8) rotate(-90)" font-size="19.5" textLength="140" lengthAdjust="spacingAndGlyphs">NWCW0232WY4</text>
<circle cx="1050.3" cy="1117.3" r="2"/>
</g>
<circle cx="404.8" cy="1036" r="7.5" fill="#5e8a37"/>
<circle cx="404.8" cy="1076.7" r="7.5" fill="#c8b43c"/><rect x="405" y="1069.5" width="2.5" height="14.5" fill="#f0f0f0"/>
<circle cx="404.8" cy="1117.4" r="7.5" fill="#c8b43c"/><rect x="405" y="1110" width="2.5" height="14.5" fill="#f0f0f0"/>
<circle cx="404.8" cy="1157" r="7.5" fill="#c8b43c"/><rect x="405" y="1150" width="2.5" height="14" fill="#f0f0f0"/>
<rect x="444.4" y="1047.2" width="111" height="7.5" fill="url(#wcomb)"/>
<rect x="427.1" y="1054.7" width="144.5" height="118.6" rx="3" fill="#f6f6f6" stroke="#dcdcdc" stroke-width="0.8"/>
<path d="M449.5,1064 H470 Q473,1064 473,1067 V1077 Q473,1080 470,1080 H449.5 V1075 H462 V1069 H449.5 Z" fill="#2a2a2a"/>
<path d="M546.8,1064 H527 Q524,1064 524,1067 V1077 Q524,1080 527,1080 H546.8 V1075 H535 V1069 H546.8 Z" fill="#2a2a2a"/>
<rect x="491" y="1088.6" width="14.5" height="6.8" fill="#2a2a2a"/>
<g fill="none" stroke-linejoin="round">
<path d="M457,1143 L463,1113 Q468,1107 473,1113 L479,1143" stroke="#262626" stroke-width="5"/>
<path d="M454,1143 L460.5,1113" stroke="#e8a800" stroke-width="2"/><path d="M482,1143 L475.5,1113" stroke="#e8a800" stroke-width="2"/>
<path d="M518,1143 L524,1113 Q529,1107 534,1113 L540,1143" stroke="#262626" stroke-width="5"/>
<path d="M515,1143 L521.5,1113" stroke="#e8a800" stroke-width="2"/><path d="M543,1143 L536.5,1113" stroke="#e8a800" stroke-width="2"/>
</g>
<g fill="#f4f4f4"><rect x="583.1" y="1087" width="8.9" height="10"/><rect x="617" y="1087" width="8.9" height="10"/><rect x="583.1" y="1161" width="8.9" height="9"/><rect x="617" y="1161" width="8.9" height="9"/></g>
<rect x="577.4" y="1095.4" width="54.2" height="67.8" rx="3" fill="#f8f8f8" stroke="#dddddd" stroke-width="0.8"/>
<ellipse cx="603.8" cy="1129.3" rx="17.6" ry="24.4" fill="#f0f0f0" stroke="#c4c4c4" stroke-width="1.5"/>
<rect x="592.6" y="1054.7" width="24.4" height="11.8" fill="#c8871e"/><rect x="597" y="1056" width="15.6" height="9" fill="#e8e8e8"/>
<rect x="680.8" y="1158" width="25.4" height="12" fill="#c8871e"/><rect x="685.5" y="1159.3" width="16" height="9.4" fill="#e8e8e8"/>
</g>
<ellipse cx="757" cy="1177" rx="29.5" ry="24" fill="#ececec"/>

<g fill="none" stroke-width="6.6">
<rect x="359" y="654" width="799.6" height="552" stroke="#ff0000"/>
<rect x="512" y="313" width="426.6" height="330" stroke="#0000ff"/>
<rect x="950.6" y="362" width="328.4" height="262" stroke="#00ffff"/>
<rect x="1279.7" y="130" width="166.3" height="188" stroke="#ffff00"/>
<rect x="971" y="1304" width="354" height="237" stroke="#ff33aa"/>
</g>

<g fill="#fff">
<ellipse cx="406" cy="601.3" rx="34" ry="33.3"/>
<ellipse cx="468.7" cy="294.4" rx="34.8" ry="32.8"/>
<ellipse cx="996.4" cy="317.5" rx="35" ry="33.5"/>
<ellipse cx="1410" cy="86" rx="35" ry="33.7"/>
<ellipse cx="1003.5" cy="1264" rx="34.7" ry="33"/>
</g>
<g font-family="'DejaVu Sans','Liberation Sans',sans-serif" font-size="52" text-anchor="middle">
<text x="404.8" y="623" fill="#ff0000">1</text>
<text x="468" y="313.7" fill="#0000ff">2</text>
<text x="996" y="337" fill="#00ffff">3</text>
<text x="1410" y="103.9" fill="#a89a08">4</text>
<text x="1003.5" y="1282.5" fill="#ff33aa">5</text>
</g>
</svg>
</body></html>
